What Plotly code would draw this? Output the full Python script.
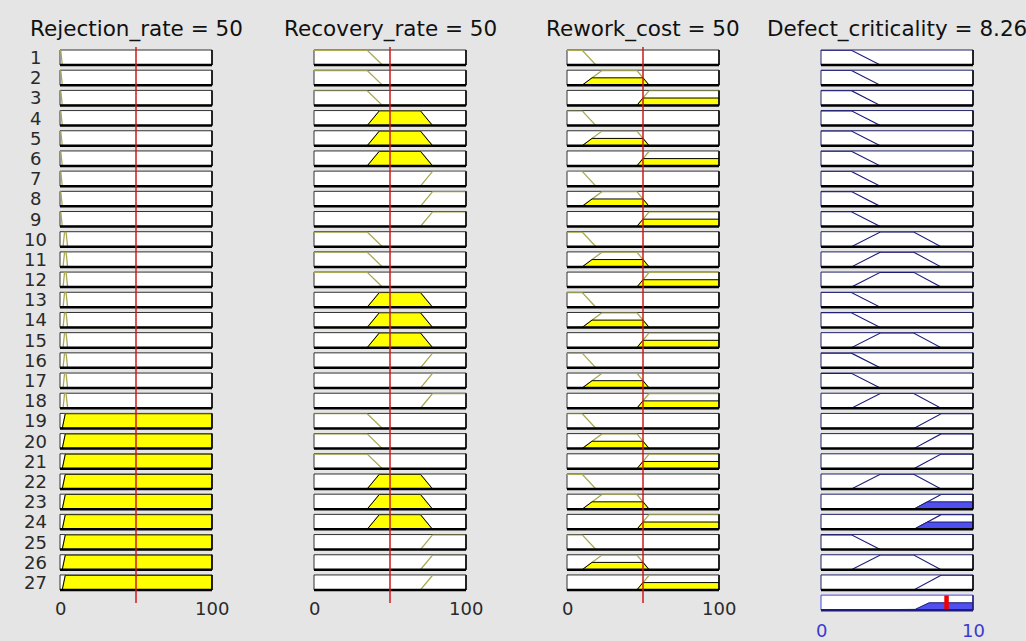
import numpy as np
import plotly.graph_objects as go

# ---------------------------------------------------------------
# Fuzzy inference system: inputs, output, membership functions
# (trapezoids given as [a, b, c, d])
# ---------------------------------------------------------------
input_names = ["Rejection_rate", "Recovery_rate", "Rework_cost"]
input_values = [50, 50, 50]
input_range = [0, 100]

rejection_mfs = {"low": [0, 0, 0.5, 1.5], "medium": [2, 3, 4, 5], "high": [1.5, 3.5, 100, 100]}
recovery_mfs = {"low": [0, 0, 35, 45], "medium": [35, 43, 70, 78], "high": [70, 78, 100, 100]}
rework_mfs = {"low": [0, 0, 10, 19], "medium": [10, 23, 46, 54], "high": [46, 54, 100, 100]}

output_name = "Defect_criticality"
output_range = [0, 10]
criticality_mfs = {"low": [0, 0, 2, 3.9], "medium": [2, 3.9, 6.1, 7.9], "high": [6.1, 7.9, 10, 10]}
defuzzified_value = 8.26

# Rule base (27 rules)
rule_rejection = ["low", "low", "low", "low", "low", "low", "low", "low", "low",
                  "medium", "medium", "medium", "medium", "medium", "medium", "medium", "medium", "medium",
                  "high", "high", "high", "high", "high", "high", "high", "high", "high"]
rule_recovery = ["low", "low", "low", "medium", "medium", "medium", "high", "high", "high",
                 "low", "low", "low", "medium", "medium", "medium", "high", "high", "high",
                 "low", "low", "low", "medium", "medium", "medium", "high", "high", "high"]
rule_rework = ["low", "medium", "high", "low", "medium", "high", "low", "medium", "high",
               "low", "medium", "high", "low", "medium", "high", "low", "medium", "high",
               "low", "medium", "high", "low", "medium", "high", "low", "medium", "high"]
rule_output = ["low", "low", "low", "low", "low", "low", "low", "low", "low",
               "medium", "medium", "medium", "low", "low", "medium", "low", "low", "medium",
               "high", "high", "high", "medium", "high", "high", "low", "medium", "high"]

input_mfs = [rejection_mfs, recovery_mfs, rework_mfs]
rule_inputs = [rule_rejection, rule_recovery, rule_rework]

# ---------------------------------------------------------------
# Layout geometry (pixels)
# ---------------------------------------------------------------
W, H = 1026, 641
col_left = [60, 314, 567, 821]
box_w = 152
row_top0 = 50.0
row_pitch = 20.19
box_h = 15.0
n_rules = len(rule_output)

BG = "#e5e5e5"
MF_LINE = "#a9a955"
IN_FILL = "#ffff00"
OUT_LINE = "#1c1c78"
OUT_FILL = "#5050f0"
RED = "#d01818"
FONT = "DejaVu Sans"


def trap(x, p):
    a, b, c, d = p
    x = np.asarray(x, dtype=float)
    y = np.zeros_like(x)
    y[(x >= b) & (x <= c)] = 1.0
    if b > a:
        m = (x > a) & (x < b)
        y[m] = (x[m] - a) / (b - a)
    if d > c:
        m = (x > c) & (x < d)
        y[m] = (d - x[m]) / (d - c)
    return y


def outline(p, rng):
    lo, hi = rng
    xs = np.unique(np.clip([lo, *p, hi], lo, hi))
    return xs, trap(xs, p)


def clipped(p, h, rng):
    lo, hi = rng
    a, b, c, d = p
    pts = [lo, a, b, c, d, hi, a + h * (b - a), d - h * (d - c)]
    xs = np.unique(np.clip(pts, lo, hi))
    ys = np.minimum(trap(xs, p), h)
    px = np.concatenate([[xs[0]], xs, [xs[-1], xs[0]]])
    py = np.concatenate([[0], ys, [0, 0]])
    return px, py


fig = go.Figure()
layout_axes = {}
shapes = []
annotations = []
axis_counter = [0]


def new_axis(col, row, rng):
    axis_counter[0] += 1
    n = axis_counter[0]
    sfx = "" if n == 1 else str(n)
    top = row_top0 + row * row_pitch
    left = col_left[col]
    common = dict(visible=False, showgrid=False, zeroline=False, fixedrange=True)
    layout_axes["xaxis" + sfx] = dict(domain=[left / W, (left + box_w) / W],
                                      range=rng, anchor="y" + sfx, **common)
    layout_axes["yaxis" + sfx] = dict(domain=[1 - (top + box_h) / H, 1 - top / H],
                                      range=[0, 1.02], anchor="x" + sfx, **common)
    return "x" + sfx, "y" + sfx


def add_box(xa, ya, edge, bottom):
    shapes.append(dict(type="rect", xref=xa + " domain", yref=ya + " domain",
                       x0=0, x1=1, y0=0, y1=1, fillcolor="white",
                       line=dict(color=edge, width=1), layer="below"))
    shapes.append(dict(type="line", xref=xa + " domain", yref=ya + " domain",
                       x0=0, x1=1, y0=0, y1=0, line=dict(color=bottom, width=2.5),
                       layer="above"))
    shapes.append(dict(type="line", xref=xa + " domain", yref=ya + " domain",
                       x0=1, x1=1, y0=0, y1=1, line=dict(color=bottom, width=1.5),
                       layer="above"))


# Degree of each input membership at the current input values
degrees = []
for mfs, val in zip(input_mfs, input_values):
    degrees.append({k: float(trap([val], p)[0]) for k, p in mfs.items()})

first_axis_of_col = []

# ---------------- Input columns ----------------
for ci in range(3):
    mfs = input_mfs[ci]
    for r in range(n_rules):
        xa, ya = new_axis(ci, r, input_range)
        if r == 0:
            first_axis_of_col.append(xa)
        add_box(xa, ya, "#303030", "#000000")
        term = rule_inputs[ci][r]
        p = mfs[term]
        ox, oy = outline(p, input_range)
        fig.add_trace(go.Scatter(x=ox, y=oy, xaxis=xa, yaxis=ya, mode="lines",
                                 line=dict(color=MF_LINE, width=1.3), hoverinfo="skip",
                                 showlegend=False))
        h = degrees[ci][term]
        if h > 0:
            fx, fy = clipped(p, h, input_range)
            fig.add_trace(go.Scatter(x=fx, y=fy, xaxis=xa, yaxis=ya, mode="lines",
                                     fill="toself", fillcolor=IN_FILL,
                                     line=dict(color="#000000", width=1),
                                     hoverinfo="skip", showlegend=False))

# ---------------- Output column ----------------
grid = np.linspace(output_range[0], output_range[1], 2001)
aggregate = np.zeros_like(grid)
for r in range(n_rules):
    xa, ya = new_axis(3, r, output_range)
    if r == 0:
        first_axis_of_col.append(xa)
    add_box(xa, ya, "#20206a", "#000000")
    strength = min(degrees[ci][rule_inputs[ci][r]] for ci in range(3))
    p = criticality_mfs[rule_output[r]]
    ox, oy = outline(p, output_range)
    fig.add_trace(go.Scatter(x=ox, y=oy, xaxis=xa, yaxis=ya, mode="lines",
                             line=dict(color=OUT_LINE, width=1.1), hoverinfo="skip",
                             showlegend=False))
    if strength > 0:
        fx, fy = clipped(p, strength, output_range)
        fig.add_trace(go.Scatter(x=fx, y=fy, xaxis=xa, yaxis=ya, mode="lines",
                                 fill="toself", fillcolor=OUT_FILL,
                                 line=dict(color=OUT_LINE, width=1),
                                 hoverinfo="skip", showlegend=False))
        aggregate = np.maximum(aggregate, np.minimum(trap(grid, p), strength))

# Aggregated output row
xa, ya = new_axis(3, n_rules, output_range)
add_box(xa, ya, "#4646e6", "#1c1c78")
fig.add_trace(go.Scatter(x=np.concatenate([grid, [grid[-1], grid[0]]]),
                         y=np.concatenate([aggregate, [0, 0]]),
                         xaxis=xa, yaxis=ya, mode="lines", fill="toself",
                         fillcolor=OUT_FILL, line=dict(color=OUT_LINE, width=1),
                         hoverinfo="skip", showlegend=False))
fig.add_trace(go.Scatter(x=[defuzzified_value, defuzzified_value], y=[0, 1.02],
                         xaxis=xa, yaxis=ya, mode="lines",
                         line=dict(color="#ee0000", width=4.5),
                         hoverinfo="skip", showlegend=False))

# Input value markers (vertical red lines across all rules)
for ci in range(3):
    shapes.append(dict(type="line", xref=first_axis_of_col[ci], yref="paper",
                       x0=input_values[ci], x1=input_values[ci],
                       y0=1 - 603 / H, y1=1 - 47 / H,
                       line=dict(color=RED, width=1.5), layer="above"))

# Column titles
titles = [f"{n} = {v:g}" for n, v in zip(input_names, input_values)]
titles.append(f"{output_name} = {defuzzified_value:.2f}")
for ci, t in enumerate(titles):
    annotations.append(dict(text=t, xref=first_axis_of_col[ci] + " domain", x=0.5,
                            yref="paper", y=1 - 29 / H, showarrow=False,
                            xanchor="center", yanchor="middle",
                            font=dict(family=FONT, size=21.5, color="#111111")))

# Rule numbers
for r in range(n_rules):
    yc = row_top0 + r * row_pitch + box_h / 2
    annotations.append(dict(text=str(r + 1), xref="paper", x=35 / W, yref="paper",
                            y=1 - yc / H, showarrow=False, xanchor="center",
                            yanchor="middle",
                            font=dict(family=FONT, size=18, color="#2a2a2a")))

# Axis range labels
for ci in range(3):
    for v in input_range:
        annotations.append(dict(text=f"{v:g}", xref=first_axis_of_col[ci], x=v,
                                yref="paper", y=1 - 608 / H, showarrow=False,
                                xanchor="center", yanchor="middle",
                                font=dict(family=FONT, size=18, color="#2a2a2a")))
for v in output_range:
    annotations.append(dict(text=f"{v:g}", xref=first_axis_of_col[3], x=v,
                            yref="paper", y=1 - 630 / H, showarrow=False,
                            xanchor="center", yanchor="middle",
                            font=dict(family=FONT, size=18, color="#3a3ad0")))

fig.update_layout(width=W, height=H, margin=dict(l=0, r=0, t=0, b=0),
                  paper_bgcolor=BG, plot_bgcolor="white", showlegend=False,
                  shapes=shapes, annotations=annotations, **layout_axes)

fig.write_html("out.html", config={"displayModeBar": False})
